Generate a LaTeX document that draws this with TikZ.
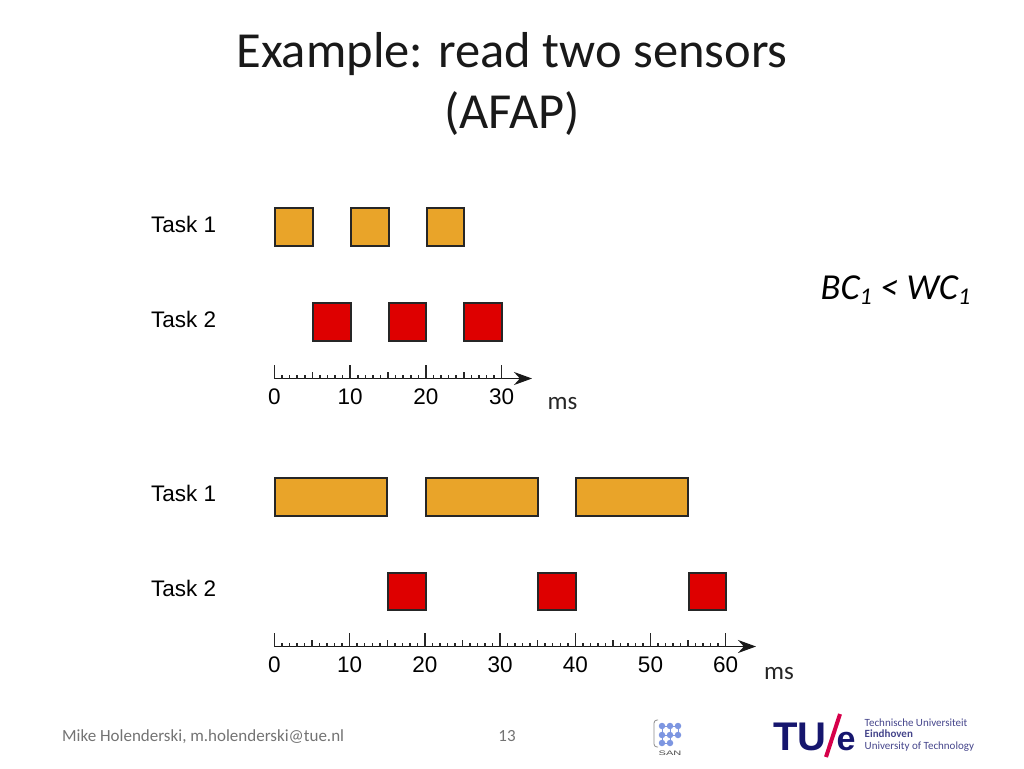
\documentclass[tikz,border=0pt]{standalone}
\usepackage{fontspec}
\setmainfont{Carlito}
\newfontfamily\helv{Liberation Sans}
\usetikzlibrary{arrows.meta}
\definecolor{taskone}{RGB}{233,164,41}
\definecolor{tasktwo}{RGB}{222,0,0}
\definecolor{tuenavy}{RGB}{22,22,110}
\definecolor{tuered}{RGB}{214,0,74}
\definecolor{sanblue}{RGB}{125,150,225}
\tikzstyle{slot}=[draw=black!85,line width=2pt,minimum height=37.6pt,inner sep=0pt,outer sep=0pt,anchor=north west]
\tikzstyle{one}=[slot,fill=taskone]
\tikzstyle{two}=[slot,fill=tasktwo,minimum width=37.6pt]
\tikzstyle{tasklabel}=[font=\helv\fontsize{22.5}{26}\selectfont,anchor=west,inner sep=0pt,text=black]
\tikzstyle{ticklabel}=[font=\helv\fontsize{22.5}{26}\selectfont,inner sep=0pt,text=black]
\tikzstyle{unit}=[font=\fontsize{25}{30}\selectfont,inner sep=0pt,text=black!85]
\tikzstyle{axis}=[line width=1.8pt,black!90,-{Stealth[length=18pt,width=13pt]}]
\tikzstyle{tick}=[line width=1.5pt,black!85]
\tikzstyle{dot}=[circle,fill=sanblue,minimum size=6.5pt,inner sep=0pt]

\begin{document}
\begin{tikzpicture}[x=1pt,y=-1pt]
      \useasboundingbox (0,0) rectangle (1024,768);

      \node[font=\fontsize{50.5}{61}\selectfont,align=center,text=black!90] (title) at (512,84) {Example: read two sensors\\(AFAP)};

      % upper schedule
      \node[tasklabel] (label1) at (151,224) {Task 1};
      \node[tasklabel] (label2) at (151,319) {Task 2};
      \foreach \x/\id in {275.2/1,351/2,426.7/3}{
        \node[one,minimum width=37.6pt] (a\id) at (\x,208.2) {};
      }
      \foreach \x/\id in {313.3/1,388.7/2,464.3/3}{
        \node[two] (b\id) at (\x,303.2) {};
      }
      \coordinate (axis1) at (274.5,378.5);
      \coordinate (end1) at (532,378.5);
      \draw[axis] (axis1) -- (end1);
      \foreach \i in {0,...,30}{
        \draw[tick] (274.5+\i*7.57,378.5) -- (274.5+\i*7.57,375);
      }
      \foreach \i in {0,5,...,30}{
        \draw[tick] (274.5+\i*7.57,378.5) -- (274.5+\i*7.57,372);
      }
      \foreach \i in {0,10,20,30}{
        \draw[tick] (274.5+\i*7.57,378.5) -- (274.5+\i*7.57,364.5);
        \node[ticklabel] (t\i) at (274.5+\i*7.57,397) {\i};
      }
      \node[unit] (ms1) at (562.5,404) {ms};

      \node[font=\itshape\fontsize{36.6}{42}\selectfont,inner sep=0pt,anchor=base west] (bc) at (820.5,299) {BC\raisebox{-5pt}{\fontsize{24}{28}\selectfont 1} < WC\raisebox{-5pt}{\fontsize{24}{28}\selectfont 1}};

      % lower schedule
      \node[tasklabel] (label3) at (151,493.5) {Task 1};
      \node[tasklabel] (label4) at (151,588.5) {Task 2};
      \foreach \x/\id in {275/1,425.5/2,576/3}{
        \node[one,minimum width=112.4pt] (c\id) at (\x,478) {};
      }
      \foreach \x/\id in {388/1,538/2,688.5/3}{
        \node[two] (d\id) at (\x,572.5) {};
      }
      \coordinate (axis2) at (274.5,646.5);
      \coordinate (end2) at (756,646.5);
      \draw[axis] (axis2) -- (end2);
      \foreach \i in {0,...,60}{
        \draw[tick] (274.5+\i*7.52,646.5) -- (274.5+\i*7.52,643);
      }
      \foreach \i in {0,5,...,60}{
        \draw[tick] (274.5+\i*7.52,646.5) -- (274.5+\i*7.52,640);
      }
      \foreach \i in {0,10,...,60}{
        \draw[tick] (274.5+\i*7.52,646.5) -- (274.5+\i*7.52,633);
        \node[ticklabel] (u\i) at (274.5+\i*7.52,665) {\i};
      }
      \node[unit] (ms2) at (779,674) {ms};

      % footer
      \node[font=\fontsize{17}{20}\selectfont,text=black!55,anchor=west,inner sep=0pt] (author) at (62,737) {Mike Holenderski, m.holenderski@tue.nl};
      \node[font=\fontsize{17}{20}\selectfont,text=black!55,inner sep=0pt] (page) at (507,736) {13};

      % logos
      \draw[black!45,line width=0.8pt,rounded corners=3pt] (658,720) -- (654,720) -- (654,747) -- (658,747);
      \foreach \x/\y/\id in {662/726/1,670/726/2,678/726/3,662/735/4,670/735/5,678/735/6,662/743/7,670/743/8}{
        \node[dot] (s\id) at (\x,\y) {};
      }
      \draw[sanblue,line width=0.8pt] (s1) -- (s3) (s4) -- (s6) (s7) -- (s8) (s1) -- (s7) (s2) -- (s8) (s3) -- (s6);
      \node[font=\helv\fontsize{6.5}{8}\selectfont,text=black!70,inner sep=0pt,xscale=1.7] (san) at (670,753) {SAN};
      \node[font=\helv\bfseries\fontsize{40}{50}\selectfont,text=tuenavy,inner sep=0pt,anchor=base] (tu) at (800,750) {TU};
      \node[font=\helv\bfseries\fontsize{34}{40}\selectfont,text=tuenavy,inner sep=0pt,anchor=base] (e) at (846,750) {e};
      \coordinate (sl1) at (840,714);
      \coordinate (sl2) at (826,757);
      \draw[tuered,line width=4pt] (sl1) -- (sl2);
      \node[font=\fontsize{11}{11.3}\selectfont,text=tuenavy!80,align=left,anchor=west,inner sep=0pt] (tue) at (864.5,735) {Technische Universiteit\\\textbf{Eindhoven}\\University of Technology};
\end{tikzpicture}
\end{document}
